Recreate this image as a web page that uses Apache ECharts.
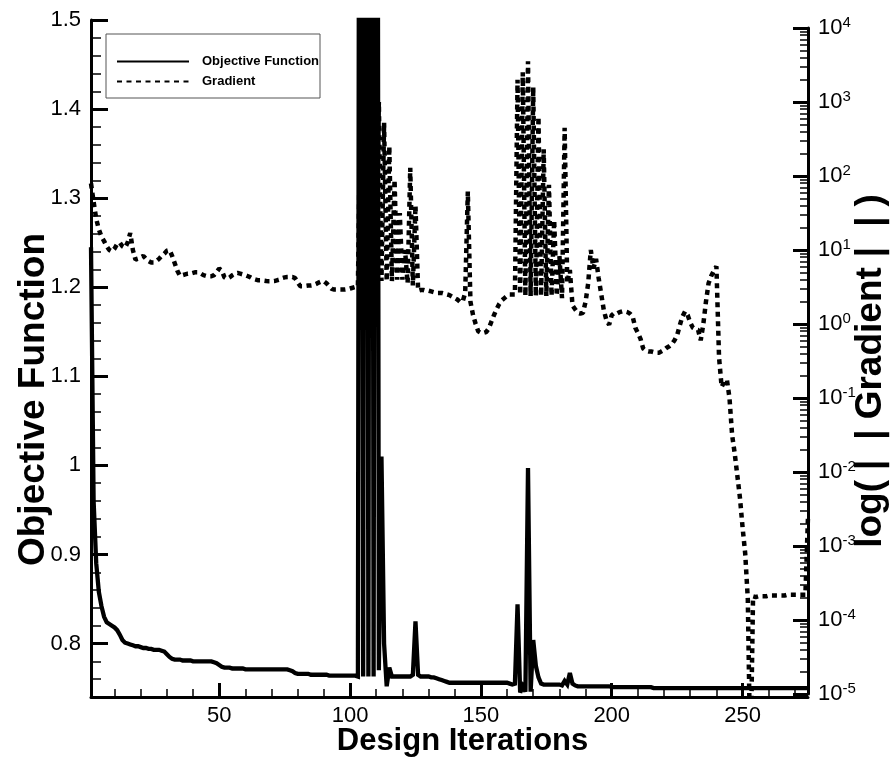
<!DOCTYPE html>
<html>
<head>
<meta charset="utf-8">
<script src="https://cdn.jsdelivr.net/npm/echarts@6/dist/echarts.min.js"></script>
<style>html,body{margin:0;padding:0;background:#fff}#c{width:891px;height:759px}</style>
</head>
<body>
<div id="c"></div>
<script>
// ---- data (iterations 1..275) ----
const iterStart = 1;
const objective = [
1.245,0.960,0.890,0.858,0.842,0.830,0.824,0.822,0.820,0.818,
0.815,0.810,0.804,0.801,0.800,0.799,0.798,0.797,0.797,0.796,
0.795,0.795,0.794,0.794,0.793,0.793,0.793,0.792,0.791,0.788,
0.785,0.783,0.782,0.782,0.782,0.781,0.781,0.781,0.781,0.780,
0.780,0.780,0.780,0.780,0.780,0.780,0.780,0.779,0.778,0.776,
0.774,0.773,0.773,0.773,0.772,0.772,0.772,0.772,0.772,0.771,
0.771,0.771,0.771,0.771,0.771,0.771,0.771,0.771,0.771,0.771,
0.771,0.771,0.771,0.771,0.771,0.771,0.770,0.769,0.767,0.766,
0.766,0.766,0.766,0.766,0.765,0.765,0.765,0.765,0.765,0.765,
0.765,0.764,0.764,0.764,0.764,0.764,0.764,0.764,0.764,0.764,
0.764,0.764,0.763,3.000,0.763,3.000,0.763,3.000,0.763,3.000,
0.770,1.010,0.800,0.752,0.773,0.763,0.763,0.763,0.763,0.763,
0.763,0.763,0.763,0.765,0.825,0.765,0.763,0.763,0.763,0.763,
0.762,0.762,0.761,0.760,0.759,0.758,0.757,0.756,0.756,0.756,
0.756,0.756,0.756,0.756,0.756,0.756,0.756,0.756,0.756,0.756,
0.756,0.756,0.756,0.756,0.756,0.756,0.756,0.756,0.756,0.756,
0.755,0.754,0.755,0.844,0.745,0.752,0.746,0.997,0.746,0.804,
0.775,0.762,0.755,0.754,0.754,0.754,0.754,0.754,0.754,0.754,
0.753,0.758,0.754,0.767,0.755,0.753,0.752,0.752,0.752,0.752,
0.752,0.752,0.752,0.752,0.752,0.752,0.752,0.752,0.752,0.751,
0.751,0.751,0.751,0.751,0.751,0.751,0.751,0.751,0.751,0.751,
0.751,0.751,0.751,0.751,0.751,0.750,0.750,0.750,0.750,0.750,
0.750,0.750,0.750,0.750,0.750,0.750,0.750,0.750,0.750,0.750,
0.750,0.750,0.750,0.750,0.750,0.750,0.750,0.750,0.750,0.750,
0.750,0.750,0.750,0.750,0.750,0.750,0.750,0.750,0.750,0.750,
0.750,0.750,0.750,0.750,0.750,0.750,0.750,0.750,0.750,0.750,
0.750,0.750,0.750,0.750,0.750,0.750,0.750,0.750,0.750,0.750,
0.750,0.750,0.750,0.750,0.750
];
// log10(||Gradient||)
const gradientLog10 = [
1.90,1.65,1.42,1.28,1.18,1.12,1.05,1.00,0.98,1.02,
1.08,1.10,1.05,1.03,1.10,1.23,1.00,0.87,0.88,0.90,
0.92,0.88,0.85,0.83,0.83,0.85,0.88,0.92,0.95,0.99,
1.00,0.92,0.82,0.72,0.65,0.66,0.67,0.68,0.68,0.69,
0.70,0.70,0.68,0.66,0.65,0.645,0.645,0.66,0.70,0.75,
0.72,0.63,0.61,0.63,0.66,0.68,0.69,0.68,0.67,0.66,
0.645,0.63,0.61,0.60,0.59,0.59,0.585,0.58,0.578,0.578,
0.58,0.59,0.60,0.62,0.63,0.635,0.636,0.636,0.62,0.56,
0.51,0.51,0.515,0.52,0.52,0.525,0.54,0.56,0.575,0.578,
0.55,0.51,0.475,0.465,0.465,0.465,0.465,0.465,0.47,0.48,
0.49,0.50,0.51,3.10,0.55,3.10,0.55,3.05,3.05,0.58,
3.00,0.58,2.72,0.58,2.40,0.58,1.95,0.60,1.50,0.60,
1.00,0.55,2.11,0.52,1.60,0.45,0.46,0.46,0.45,0.45,
0.44,0.43,0.42,0.42,0.42,0.41,0.40,0.39,0.37,0.35,
0.33,0.30,0.30,0.42,1.79,0.30,0.12,0.00,-0.10,-0.12,
-0.12,-0.11,-0.06,0.03,0.12,0.20,0.27,0.32,0.35,0.38,
0.40,0.40,0.40,3.30,0.40,3.40,0.38,3.55,0.38,3.20,
0.38,2.80,0.38,2.36,0.38,1.88,0.38,1.40,0.38,0.92,
0.35,2.65,0.55,0.73,0.25,0.20,0.15,0.14,0.15,0.30,
0.55,1.00,0.75,0.88,0.62,0.40,0.18,0.05,-0.01,0.12,
0.15,0.14,0.16,0.17,0.17,0.16,0.14,0.10,-0.05,-0.12,
-0.20,-0.33,-0.36,-0.37,-0.37,-0.38,-0.39,-0.39,-0.37,-0.35,
-0.32,-0.30,-0.27,-0.22,-0.15,-0.02,0.10,0.17,0.12,0.02,
-0.05,-0.07,-0.08,-0.22,0.00,0.30,0.55,0.65,0.72,0.78,
-0.45,-0.85,-0.78,-0.75,-1.00,-1.50,-1.75,-2.05,-2.35,-2.75,
-3.10,-3.72,-6.00,-3.68,-3.69,-3.68,-3.68,-3.68,-3.68,-3.67,
-3.67,-3.67,-3.67,-3.67,-3.67,-3.67,-3.66,-3.66,-3.66,-3.66,
-3.66,-3.66,-3.66,-3.66,-2.60
];
const xMajorTicks = [50, 100, 150, 200, 250];
const xMinorTicks = [10, 20, 30, 40, 60, 70, 80, 90, 110, 120, 130, 140, 160, 170, 180, 190, 210, 220, 230, 240, 260, 270];
const yMajorTicks = [0.8, 0.9, 1.0, 1.1, 1.2, 1.3, 1.4, 1.5];
const yMinorTicks = [0.76, 0.78, 0.82, 0.84, 0.86, 0.88, 0.92, 0.94, 0.96, 0.98, 1.02, 1.04, 1.06, 1.08, 1.12, 1.14, 1.16, 1.18, 1.22, 1.24, 1.26, 1.28, 1.32, 1.34, 1.36, 1.38, 1.42, 1.44, 1.46, 1.48];
const logDecades = [-5, -4, -3, -2, -1, 0, 1, 2, 3, 4];

// ---- build ----
const objData = objective.map((v, i) => [iterStart + i, v]);
const gradData = gradientLog10.map((v, i) => [iterStart + i, v]);
const logMinor = [];
for (let d = -5; d < 4; d++) for (let k = 2; k <= 9; k++) logMinor.push(d + Math.log10(k));

const FONT = '"Liberation Sans", Arial, Helvetica, sans-serif';
const black = '#000';
const titleStyle = {fontFamily: FONT, fontWeight: 'bold', fontSize: 37, color: black};

const chart = echarts.init(document.getElementById('c'), null, {renderer: 'canvas'});
chart.setOption({
  animation: false,
  backgroundColor: '#fff',
  textStyle: {fontFamily: FONT},
  grid: [
    {left: 91, right: 83, top: 20, bottom: 62, outerBoundsMode: 'none', containLabel: false},
    {left: 91, right: 83, top: 28, bottom: 65, outerBoundsMode: 'none', containLabel: false}
  ],
  legend: {
    data: ['Objective Function', 'Gradient'],
    orient: 'vertical', left: 106, top: 34,
    itemWidth: 72, itemHeight: 14, itemGap: 7,
    padding: [21, 1, 10, 10],
    backgroundColor: '#fff', borderColor: '#555', borderWidth: 1,
    selectedMode: false,
    itemStyle: {opacity: 0, color: 'transparent', borderWidth: 0},
    textStyle: {fontFamily: FONT, fontWeight: 'bold', fontSize: 13, color: black, padding: [0, 0, 0, 8]}
  },
  xAxis: [
    {
      type: 'value', gridIndex: 0, min: 1, max: 275, position: 'bottom',
      name: 'Design Iterations', nameLocation: 'middle', nameGap: 29, nameMoveOverlap: false,
      nameTextStyle: Object.assign({}, titleStyle, {fontSize: 31, padding: [0, 0, 0, 26]}),
      axisLine: {show: true, lineStyle: {color: black, width: 3}},
      axisTick: {show: true, inside: true, length: 14, lineStyle: {color: black, width: 3}, customValues: xMajorTicks},
      axisLabel: {show: true, customValues: xMajorTicks, fontSize: 22, color: black, fontFamily: FONT, margin: 8},
      splitLine: {show: false}
    },
    {
      type: 'value', gridIndex: 0, min: 1, max: 275, position: 'bottom',
      axisLine: {show: false},
      axisTick: {show: true, inside: true, length: 8, lineStyle: {color: black, width: 1.5}, customValues: xMinorTicks},
      axisLabel: {show: false},
      splitLine: {show: false}
    },
    {
      type: 'value', gridIndex: 1, min: 1, max: 275, show: false, splitLine: {show: false}
    }
  ],
  yAxis: [
    {
      type: 'value', gridIndex: 0, min: 0.74, max: 1.5, position: 'left',
      name: 'Objective Function', nameLocation: 'middle', nameGap: 39, nameMoveOverlap: false,
      nameTextStyle: Object.assign({}, titleStyle, {padding: [0, 82, 0, 0]}),
      axisLine: {show: true, lineStyle: {color: black, width: 3}},
      axisTick: {show: true, inside: true, length: 17, lineStyle: {color: black, width: 3}, customValues: yMajorTicks},
      axisLabel: {show: true, customValues: yMajorTicks, fontSize: 22, color: black, fontFamily: FONT, margin: 10,
        formatter: v => String(Math.round(v * 10) / 10)},
      splitLine: {show: false}
    },
    {
      type: 'value', gridIndex: 0, min: 0.74, max: 1.5, position: 'left',
      axisLine: {show: false},
      axisTick: {show: true, inside: true, length: 10, lineStyle: {color: black, width: 1.5}, customValues: yMinorTicks},
      axisLabel: {show: false},
      splitLine: {show: false}
    },
    {
      type: 'value', gridIndex: 1, min: -5, max: 4, interval: 1, position: 'right',
      name: '{t|log(}{b||}{b||}{t|Gradient}{b||}{b||}{t|)}', nameLocation: 'middle', nameGap: 44, nameMoveOverlap: false,
      nameTextStyle: Object.assign({}, titleStyle, {padding: [0, 20, 0, 0],
        rich: {
          t: Object.assign({}, titleStyle),
          b: Object.assign({}, titleStyle, {padding: [0, 10, 0, 10]})
        }}),
      axisLine: {show: true, lineStyle: {color: black, width: 3}},
      axisTick: {show: true, inside: true, length: 15, lineStyle: {color: black, width: 3}, customValues: logDecades},
      axisLabel: {show: true, customValues: logDecades, margin: 10, color: black, fontFamily: FONT,
        formatter: v => '{b|10}{s|' + v + '}',
        rich: {
          b: {fontSize: 22, lineHeight: 26, color: black, fontFamily: FONT},
          s: {fontSize: 15, lineHeight: 15, verticalAlign: 'top', color: black, fontFamily: FONT}
        }},
      splitLine: {show: false}
    },
    {
      type: 'value', gridIndex: 1, min: -5, max: 4, interval: 1, position: 'right',
      axisLine: {show: false},
      axisTick: {show: true, inside: true, length: 8, lineStyle: {color: black, width: 1.5}, customValues: logMinor},
      axisLabel: {show: false},
      splitLine: {show: false}
    }
  ],
  series: [
    {
      name: 'Gradient', type: 'line', xAxisIndex: 2, yAxisIndex: 2,
      data: gradData, showSymbol: false, symbol: 'none', clip: true, z: 2,
      lineStyle: {color: black, width: 4.5, type: [5, 4.5], cap: 'butt', join: 'bevel'},
      itemStyle: {color: black}
    },
    {
      name: 'Objective Function', type: 'line', xAxisIndex: 0, yAxisIndex: 0,
      data: objData, showSymbol: false, symbol: 'none', clip: true, z: 3,
      lineStyle: {color: black, width: 4.3, join: 'miter', miterLimit: 4},
      itemStyle: {color: black}
    }
  ]
});
</script>
</body>
</html>
